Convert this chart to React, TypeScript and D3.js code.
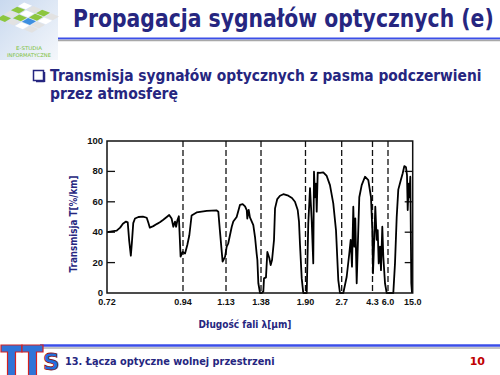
import { useRef, useEffect } from "react";
import * as d3 from "d3";

// wavelength [um] and transmission [%/km]
const lambda = [
  0.72, 0.734, 0.748, 0.758, 0.766, 0.775, 0.78, 0.784, 0.789, 0.792, 0.796, 0.801, 0.811, 0.824, 0.835, 0.84,
  0.844, 0.854, 0.865, 0.873, 0.882, 0.893, 0.9, 0.907, 0.912, 0.917, 0.92, 0.924, 0.928, 0.93, 0.933, 0.939,
  0.949, 0.959, 0.968, 0.978, 1.0, 1.045, 1.089, 1.096, 1.103, 1.115, 1.126,
  1.135, 1.146, 1.171, 1.182, 1.206, 1.23, 1.249, 1.266, 1.278, 1.282, 1.292, 1.301, 1.325, 1.337, 1.349, 1.354,
  1.361, 1.373,
  1.388, 1.407, 1.415, 1.438, 1.454, 1.477, 1.493, 1.509, 1.532, 1.544, 1.57, 1.602, 1.641, 1.699, 1.742, 1.777,
  1.809, 1.824, 1.836, 1.856, 1.874,
  1.927, 1.962, 1.984, 2.0, 2.022, 2.037, 2.072, 2.088, 2.11, 2.132, 2.148, 2.17, 2.22, 2.293, 2.369, 2.441,
  2.514, 2.574, 2.625, 2.662,
  2.783, 2.96, 3.095, 3.168, 3.235, 3.303, 3.355, 3.407, 3.479, 3.562, 3.614, 3.739, 3.91, 4.082, 4.222, 4.29,
  4.355, 4.465, 4.607, 4.761, 4.87, 4.98, 5.123, 5.232, 5.375, 5.485, 5.671, 5.857,
  7.93, 8.55, 9.17, 9.75, 10.63, 11.36, 11.94, 12.56, 12.92, 13.18, 13.54, 13.76, 14.13, 14.49, 14.75,
];
const transmission = [
  40, 40.5, 41, 43, 45.5, 47, 46.5, 35, 24.5, 33, 46, 49, 50, 50.3, 49.5, 46,
  43, 44, 45.5, 46.5, 48, 50, 51.3, 49, 43.6, 47, 43.6, 48, 50.5, 40, 24, 27,
  26, 31.6, 38, 51, 53, 54, 54.3, 53.5, 41, 20.6, 24,
  30.5, 32.7, 43.6, 47, 50, 58, 58.5, 57, 54.6, 49, 54.6, 49.8, 44.7, 37, 25.7, 21.7,
  6.4, 0,
  0, 1, 9.6, 10.3, 27, 23, 18.4, 21.7, 35, 55.7, 61.8, 64, 65, 64, 62.5, 60,
  54.6, 47, 31.6, 9.6, 0,
  0, 46, 59, 69, 56.8, 48, 19.5, 79.8, 63, 72, 53.5, 79.2, 79, 79.4, 77, 71,
  59, 41.4, 8.5, 0,
  0, 10.7, 26, 35, 17.3, 56.8, 30.5, 49, 6.4, 41.4, 63, 71, 76.5, 74.3, 63, 41.4,
  13, 30.5, 56.8, 35, 41.4, 19.5, 30.5, 15, 43.6, 24, 6.4, 0,
  0, 19.5, 50, 68, 74, 78.8, 83.5, 82.7, 77.6, 54.6, 72, 63, 76.5, 6.4, 0,
];

const xTicks = [0.72, 0.94, 1.13, 1.38, 1.9, 2.7, 4.3, 6.0, 15.0];
const xTickLabels = ["0.72", "0.94", "1.13", "1.38", "1.90", "2.7", "4.3", "6.0", "15.0"];
const dashedAt = [0.94, 1.13, 1.38, 1.9, 2.7, 4.3, 6.0];
const yTicks = [0, 20, 40, 60, 80, 100];

const NAVY = "#262680";

// squeeze a text horizontally so it spans exactly `w` pixels
const fitText = (sel, x, y, w, anchor = "start", rot = 0) => {
  const n = sel.node().getComputedTextLength();
  const s = n > 0 ? w / n : 1;
  sel.attr("text-anchor", anchor).attr("transform", `translate(${x},${y}) rotate(${rot}) scale(${s},1)`);
};

const App = () => {
  const svgRef = useRef(null);

  useEffect(() => {
    const width = 500;
    const height = 375;
    const left = 107;
    const right = 412.7;
    const top = 141;
    const bottom = 293;

    // the printed axis is stretched piecewise between the labelled wavelengths
    const stops = [0, 0.2486, 0.3893, 0.5038, 0.6493, 0.7677, 0.8685, 0.9192, 1];
    const x = d3
      .scaleLinear()
      .domain(xTicks)
      .range(stops.map((s) => left + s * (right - left)));
    const y = d3.scaleLinear().domain([0, 100]).range([bottom, top]);

    const svg = d3.select(svgRef.current);
    svg.selectAll("*").remove();
    svg.attr("width", width).attr("height", height);

    svg.append("rect").attr("width", width).attr("height", height).attr("fill", "#fff");

    // logo (top left)
    const defs = svg.append("defs");
    const lg = defs.append("linearGradient").attr("id", "logoBg").attr("x1", 0).attr("y1", 0).attr("x2", 1).attr("y2", 1);
    lg.append("stop").attr("offset", "0%").attr("stop-color", "#c9d9ef");
    lg.append("stop").attr("offset", "100%").attr("stop-color", "#f4f7fb");
    svg.append("rect").attr("x", 0).attr("y", 0).attr("width", 58).attr("height", 60).attr("fill", "url(#logoBg)");
    const cellColors = [
      ["#ffffff", "#e2e2e2", "#8cc63f", "#e2e2e2"],
      ["#8cc63f", "#ffffff", "#8cc63f", "#ffffff"],
      ["#e2e2e2", "#8cc63f", "#3d8fe0", "#e2e2e2"],
      ["#8cc63f", "#e2e2e2", "#ffffff", "#e2e2e2"],
    ];
    const logo = svg.append("g").attr("transform", "matrix(9,3.6,-7,4.2,24,2)");
    cellColors.forEach((row, j) =>
      row.forEach((c, i) => {
        logo
          .append("rect")
          .attr("x", i + 0.06)
          .attr("y", j + 0.06)
          .attr("width", 0.88)
          .attr("height", 0.88)
          .attr("fill", c);
      })
    );
    const l1 = svg.append("text").style("font-family", "DejaVu Sans").style("font-size", "5px").attr("fill", "#7cbf3a").text("E-STUDIA");
    fitText(l1, 29, 50, 26, "middle");
    const l2 = svg.append("text").style("font-family", "DejaVu Sans").style("font-size", "5px").attr("fill", "#7cbf3a").text("INFORMATYCZNE");
    fitText(l2, 29, 57, 44, "middle");

    // title
    const title = svg.append("text")
      .style("font-family", "DejaVu Sans").style("font-weight", "bold").style("font-size", "25px")
      .attr("fill", NAVY)
      .text("Propagacja sygnałów optycznych (e)");
    fitText(title, 73, 27, 421);
    svg.append("line").attr("x1", 58).attr("x2", 500).attr("y1", 38.5).attr("y2", 38.5).attr("stroke", "#3b4ee8").attr("stroke-width", 2);
    svg.append("line").attr("x1", 58).attr("x2", 500).attr("y1", 40.5).attr("y2", 40.5).attr("stroke", "#a8a8a8").attr("stroke-width", 1.5);

    // bullet
    svg.append("rect").attr("x", 33.5).attr("y", 70.5).attr("width", 10).attr("height", 10)
      .attr("fill", "#fff").attr("stroke", NAVY).attr("stroke-width", 1.5);
    svg.append("line").attr("x1", 36).attr("x2", 44.5).attr("y1", 81.5).attr("y2", 81.5).attr("stroke", NAVY).attr("stroke-width", 1.5);
    svg.append("line").attr("x1", 44.5).attr("x2", 44.5).attr("y1", 72).attr("y2", 82).attr("stroke", NAVY).attr("stroke-width", 1.5);
    const b1 = svg.append("text")
      .style("font-family", "DejaVu Sans").style("font-weight", "bold").style("font-size", "16px")
      .attr("fill", NAVY)
      .text("Transmisja sygnałów optycznych z pasma podczerwieni");
    fitText(b1, 50, 81, 432);
    const b2 = svg.append("text")
      .style("font-family", "DejaVu Sans").style("font-weight", "bold").style("font-size", "16px")
      .attr("fill", NAVY)
      .text("przez atmosferę");
    fitText(b2, 50, 99, 128);

    // plot frame, dashed band edges, ticks
    const plot = svg.append("g");
    plot.selectAll("line.band")
      .data(dashedAt)
      .join("line")
      .attr("class", "band")
      .attr("x1", (d) => x(d)).attr("x2", (d) => x(d))
      .attr("y1", top).attr("y2", bottom)
      .attr("stroke", "#111").attr("stroke-width", 1.3).attr("stroke-dasharray", "6,3");

    plot.selectAll("line.yl")
      .data(yTicks.slice(1, -1))
      .join("line")
      .attr("class", "yl")
      .attr("x1", left).attr("x2", left + 8)
      .attr("y1", (d) => y(d)).attr("y2", (d) => y(d))
      .attr("stroke", "#111").attr("stroke-width", 1.3);
    plot.selectAll("line.yr")
      .data(yTicks.slice(1, -1))
      .join("line")
      .attr("class", "yr")
      .attr("x1", right - 8).attr("x2", right)
      .attr("y1", (d) => y(d)).attr("y2", (d) => y(d))
      .attr("stroke", "#111").attr("stroke-width", 1.3);

    const line = d3
      .line()
      .x((d) => x(d[0]))
      .y((d) => y(d[1]));
    plot.append("path")
      .attr("d", line(lambda.map((l, i) => [l, transmission[i]])))
      .attr("fill", "none").attr("stroke", "#000").attr("stroke-width", 1.8).attr("stroke-linejoin", "round");

    plot.append("rect")
      .attr("x", left).attr("y", top).attr("width", right - left).attr("height", bottom - top)
      .attr("fill", "none").attr("stroke", "#111").attr("stroke-width", 1.5);

    plot.selectAll("text.yt")
      .data(yTicks)
      .join("text")
      .attr("class", "yt")
      .attr("x", left - 4).attr("y", (d) => y(d) + 3)
      .attr("text-anchor", "end")
      .style("font-family", "Liberation Sans").style("font-weight", "bold").style("font-size", "9.5px")
      .attr("fill", "#111")
      .text((d) => d);
    plot.selectAll("text.xt")
      .data(xTicks)
      .join("text")
      .attr("class", "xt")
      .attr("x", (d) => x(d)).attr("y", bottom + 12)
      .attr("text-anchor", "middle")
      .style("font-family", "Liberation Sans").style("font-weight", "bold").style("font-size", "9px")
      .attr("fill", "#111")
      .text((d, i) => xTickLabels[i]);

    // axis titles
    const yl = svg.append("text")
      .style("font-family", "DejaVu Sans").style("font-weight", "bold").style("font-size", "11px")
      .attr("fill", NAVY)
      .text("Transmisja T[%/km]");
    fitText(yl, 77, 224, 97, "middle", -90);
    const xl = svg.append("text")
      .style("font-family", "DejaVu Sans").style("font-weight", "bold").style("font-size", "10.5px")
      .attr("fill", NAVY)
      .text("Długość fali λ[μm]");
    fitText(xl, 245, 328, 93, "middle");

    // footer
    svg.append("line").attr("x1", 40).attr("x2", 500).attr("y1", 345.5).attr("y2", 345.5).attr("stroke", "#3b4ee8").attr("stroke-width", 2.5);
    svg.append("line").attr("x1", 40).attr("x2", 500).attr("y1", 348).attr("y2", 348).attr("stroke", "#b0b0b0").attr("stroke-width", 1.5);
    [1, 22].forEach((x0) => {
      const pts = [
        [x0, 345], [x0 + 21, 345], [x0 + 21, 352], [x0 + 14.5, 352],
        [x0 + 14.5, 376], [x0 + 6.5, 376], [x0 + 6.5, 352], [x0, 352],
      ];
      svg.append("polygon")
        .attr("points", pts.map((p) => p.join(",")).join(" "))
        .attr("fill", "#2f74d8").attr("stroke", "#d42020").attr("stroke-width", 1.2);
    });
    svg.append("text").attr("x", 43).attr("y", 369.5)
      .style("font-family", "DejaVu Sans").style("font-weight", "bold").style("font-size", "23px")
      .attr("fill", "#1f6fe0").attr("stroke", "#8a1010").attr("stroke-width", 0.8)
      .text("S");
    const ft = svg.append("text")
      .style("font-family", "DejaVu Sans").style("font-weight", "bold").style("font-size", "11px")
      .attr("fill", NAVY)
      .text("13. Łącza optyczne wolnej przestrzeni");
    fitText(ft, 65, 365, 210);
    svg.append("text")
      .attr("x", 485).attr("y", 365)
      .attr("text-anchor", "end")
      .style("font-family", "DejaVu Sans").style("font-weight", "bold").style("font-size", "11px")
      .attr("fill", "#c00000")
      .text("10");
  }, []);

  return <svg ref={svgRef} style={{ position: "absolute", left: 0, top: 0 }}></svg>;
};

export default App;
